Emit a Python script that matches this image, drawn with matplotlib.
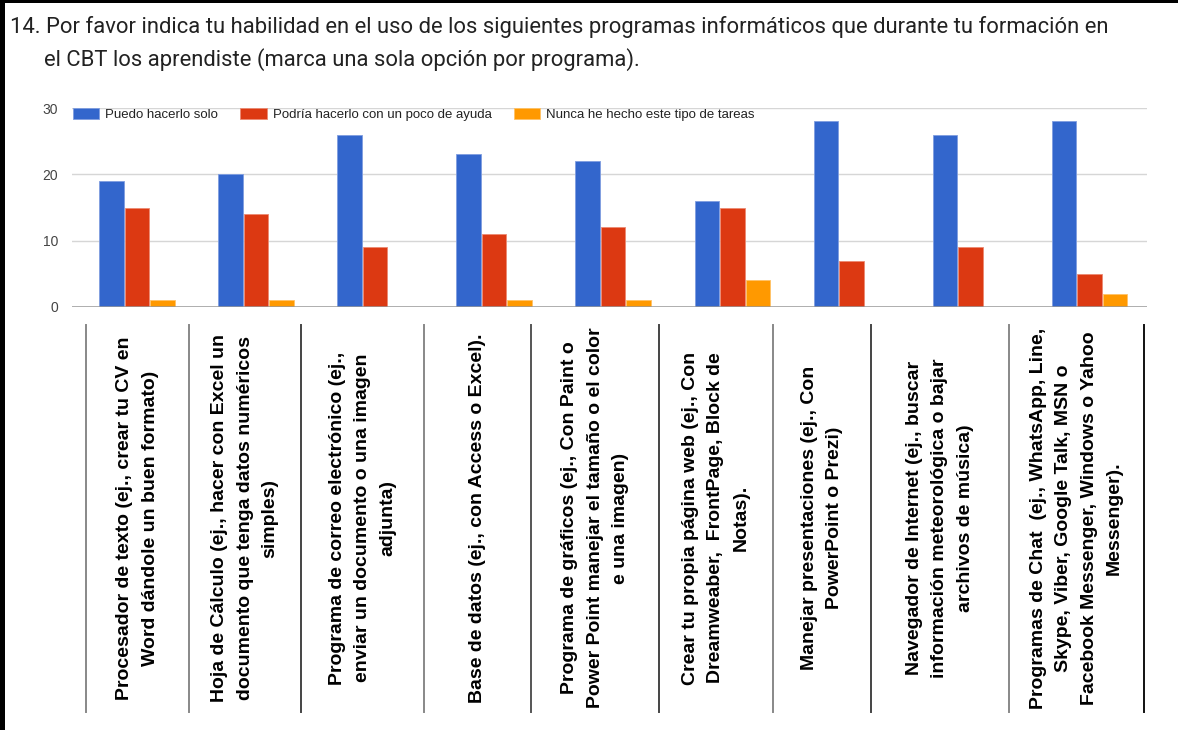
import matplotlib
matplotlib.use('Agg')
import numpy as np
from matplotlib import pyplot as plt
from matplotlib.patches import Rectangle, Patch
from matplotlib.lines import Line2D

W, H = 1178, 730

series = ['Puedo hacerlo solo', 'Podría hacerlo con un poco de ayuda',
          'Nunca he hecho este tipo de tareas']
solo = [19, 20, 26, 23, 22, 16, 28, 26, 28]
ayuda = [15, 14, 9, 11, 12, 15, 7, 9, 5]
nunca = [1, 1, 0, 1, 1, 4, 0, 0, 2]
yticks = [0, 10, 20, 30]

categories = [
    'Procesador de texto (ej., crear tu CV en\nWord dándole un buen formato)',
    'Hoja de Cálculo (ej., hacer con Excel un\ndocumento que tenga datos numéricos\nsimples)',
    'Programa de correo electrónico (ej.,\nenviar un documento o una imagen\nadjunta)',
    'Base de datos (ej., con Access o Excel).',
    'Programa de gráficos (ej., Con Paint o\nPower Point manejar el tamaño o el color\ne una imagen)',
    'Crear tu propia página web (ej., Con\nDreamweaber,  FrontPage, Block de\nNotas).',
    'Manejar presentaciones (ej., Con\nPowerPoint o Prezi)',
    'Navegador de Internet (ej., buscar\ninformación meteorológica o bajar\narchivos de música)',
    'Programas de Chat  (ej., WhatsApp, Line,\nSkype, Viber, Google Talk, MSN o\nFacebook Messenger, Windows o Yahoo\nMessenger).',
]

title1 = ('14. Por favor indica tu habilidad en el uso de los siguientes programas '
          'informáticos que durante tu formación en')
title2 = 'el CBT los aprendiste (marca una sola opción por programa).'

colors = ['#3366cc', '#dc3912', '#ff9900']
edges = ['#7f9de0', '#ec8a72', '#ffc266']


def fx(px):
    return px / W


def fy(py):
    return 1 - py / H


fig = plt.figure(figsize=(W / 100, H / 100), dpi=100)
fig.patch.set_facecolor('white')

# chart area
ax = fig.add_axes([fx(72), fy(307), fx(1147) - fx(72), fy(108) - fy(307)])
x = np.arange(len(solo))
bw = 0.206
off = 0.214
for k, vals in enumerate([solo, ayuda, nunca]):
    ax.bar(x + (k - 1) * off, vals, width=bw, color=colors[k],
           edgecolor=edges[k], linewidth=0.6, zorder=3)

ax.set_xlim(-0.544, 8.482)
ax.set_ylim(0, 30)
ax.set_yticks(yticks)
ax.set_xticks([])
for s in ax.spines.values():
    s.set_visible(False)
ax.grid(axis='y', color='#d6d6d6', linewidth=1, zorder=0)
ax.axhline(0, color='#9a9a9a', linewidth=1.8, zorder=4)
ax.tick_params(axis='y', length=0, pad=10, labelsize=10, labelcolor='#444444')
for t in ax.get_yticklabels():
    t.set_family(['Liberation Sans', 'DejaVu Sans'])

handles = [Patch(facecolor=colors[k], edgecolor=edges[k], linewidth=0.6)
           for k in range(3)]
leg = ax.legend(handles, series, ncol=3, loc='upper left',
                bbox_to_anchor=(0, 1.003), frameon=False,
                prop={'family': ['Liberation Sans', 'DejaVu Sans'], 'size': 9.5},
                handlelength=2.0, handleheight=0.9, handletextpad=0.45,
                columnspacing=1.7, borderaxespad=0, borderpad=0.05)
for t in leg.get_texts():
    t.set_color('#222222')

# title
fig.text(fx(10), fy(27), title1, fontsize=15.8, family=['Roboto', 'DejaVu Sans'],
         color='#222222', va='center', ha='left')
fig.text(fx(44), fy(60), title2, fontsize=15.8, family=['Roboto', 'DejaVu Sans'],
         color='#222222', va='center', ha='left')

# label table below the chart
seps = [86, 189, 301, 424, 531, 659, 773, 871, 1009, 1144]
sep_cols = ['#888888', '#888888', '#444444', '#888888', '#555555',
            '#444444', '#888888', '#444444', '#888888', '#111111']
for sx, sc in zip(seps, sep_cols):
    fig.add_artist(Line2D([fx(sx), fx(sx)], [fy(325), fy(712)],
                          color=sc, linewidth=1.4))
for i, lab in enumerate(categories):
    cx = (seps[i] + seps[i + 1]) / 2
    fig.text(fx(cx), fy(518), lab, rotation=90, ha='center', va='center',
             multialignment='center', fontsize=14, fontweight='bold',
             family=['Liberation Sans Narrow', 'Liberation Sans', 'DejaVu Sans'],
             linespacing=1.62, color='black')

# screenshot frame
fig.add_artist(Rectangle((0, fy(3)), 1, 3 / H, transform=fig.transFigure,
                         facecolor='black', edgecolor='none'))
fig.add_artist(Rectangle((0, 0), 5 / W, 1, transform=fig.transFigure,
                         facecolor='black', edgecolor='none'))

fig.savefig('out.png', dpi=100, facecolor='white')
